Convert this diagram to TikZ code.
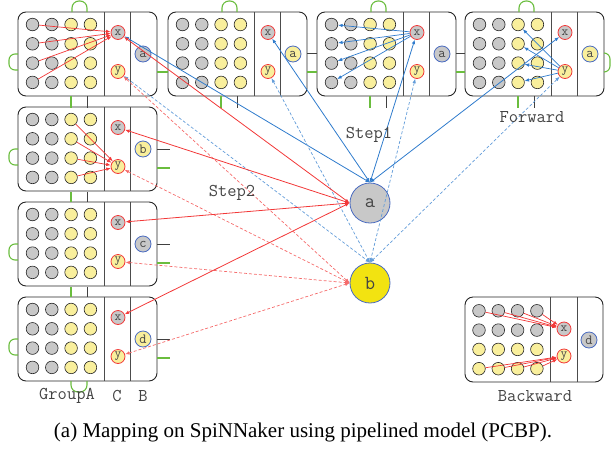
\documentclass[tikz,border=0pt]{standalone}
\usepackage{fontspec}
\setmainfont{Liberation Serif}
\usepackage{tikz}
\usetikzlibrary{arrows.meta}
\usepackage{xcolor}

\definecolor{cellgray}{HTML}{C8C8C8}
\definecolor{cellyel}{HTML}{F9EF9C}
\definecolor{bigyel}{HTML}{F2E311}
\definecolor{linered}{HTML}{F23838}
\definecolor{lineblue}{HTML}{2E7BCC}
\definecolor{ringblue}{HTML}{4A6BC0}
\definecolor{linkgreen}{HTML}{6ABD3E}
\definecolor{labelgray}{HTML}{444444}

% one group: name, top-left corner, unit letter, unit fill
\newcommand{\pcgroup}[4]{
  \begin{scope}[shift={#2}]
    \draw[groupbox] (0,0) rectangle (139,84);
    \draw[divider] (86,0) -- (86,84);
    \draw[divider] (112,0) -- (112,84);
    \foreach \c/\f in {1/cellgray,2/cellgray,3/cellyel,4/cellyel}
      \foreach \r in {1,...,4}
        \node[cell, fill=\f] (#1-\r-\c) at ({-4.8+19.3*\c},{-6.8+19.3*\r}) {};
    \node[io, fill=cellgray] (#1-x) at (100,20.5) {x};
    \node[io, fill=cellyel] (#1-y) at (100,59.5) {y};
    \node[unitnode, fill=#4] (#1-u) at (125,42) {#3};
  \end{scope}
}

\begin{document}
\begin{tikzpicture}[x=1pt, y=-1pt, font=\fontsize{18}{20}\selectfont\ttfamily, text=labelgray]
\tikzset{
  groupbox/.style={draw=black!85, line width=0.9pt, rounded corners=8pt},
  divider/.style={draw=black!70, line width=0.8pt},
  cell/.style={circle, draw=black!85, line width=0.6pt, minimum size=12.6pt, inner sep=0pt},
  io/.style={circle, draw=linered, line width=0.8pt, minimum size=14pt, inner sep=0pt, font=\fontsize{13}{13}\selectfont\ttfamily},
  unitnode/.style={circle, draw=ringblue, line width=0.8pt, minimum size=16pt, inner sep=0pt, font=\fontsize{14}{14}\selectfont\ttfamily},
  bigunit/.style={circle, draw=ringblue, line width=0.8pt, minimum size=40pt, inner sep=0pt, font=\fontsize{20}{20}\selectfont\ttfamily},
  glink/.style={draw=linkgreen, line width=1.1pt, rounded corners=7pt},
  klink/.style={draw=black!75, line width=0.8pt},
  onetip/.style={-{Latex[length=4.5pt,width=3.5pt]}, line width=0.7pt},
  twotips/.style={{Latex[length=4.5pt,width=3.5pt]}-{Latex[length=4.5pt,width=3.5pt]}},
  fwd/.style={twotips, lineblue, line width=0.8pt},
  fwdd/.style={twotips, lineblue!75, line width=0.7pt, dash pattern=on 3pt off 2pt},
  bwd/.style={twotips, linered, line width=0.8pt},
  bwdd/.style={twotips, linered!75, line width=0.7pt, dash pattern=on 3pt off 2pt},
}
\useasboundingbox (0,0) rectangle (611,448);

% forward row and left column
\pcgroup{fa}{(18,12)}{a}{cellgray}
\pcgroup{fb}{(168,12)}{a}{cellyel}
\pcgroup{fc}{(317,12)}{a}{cellgray}
\pcgroup{fd}{(465,12)}{a}{cellyel}
\pcgroup{lb}{(18,107)}{b}{cellyel}
\pcgroup{lc}{(18,202)}{c}{cellgray}
\pcgroup{ld}{(18,297)}{d}{cellyel}

% backward group
\begin{scope}[shift={(465,297)}]
  \draw[groupbox] (0,0) rectangle (138,85);
  \draw[divider] (85,0) -- (85,85);
  \draw[divider] (112,0) -- (112,85);
  \foreach \r/\f in {1/cellgray,2/cellgray,3/cellyel,4/cellyel}
    \foreach \c in {1,...,4}
      \node[cell, fill=\f] (bk-\r-\c) at ({-5.3+19.3*\c},{-5.5+19.3*\r}) {};
  \node[io, fill=cellgray] (bk-x) at (99,32) {x};
  \node[io, fill=cellyel] (bk-y) at (99,59) {y};
  \node[unitnode, fill=cellgray] (bk-u) at (124,43) {d};
\end{scope}

\node[bigunit, fill=cellgray] (ua) at (370,203) {a};
\node[bigunit, fill=bigyel] (ub) at (370,283) {b};

% links between groups
\foreach \x in {18,168,317,465} {
  \draw[glink] (\x+54,12) -- (\x+54,1) -- (\x+69,1) -- (\x+69,12);
  \draw[glink] (\x+53,96) -- (\x+53,108);
  \draw[klink] (\x+69,96) -- (\x+69,108);
}
\foreach \y in {12,107,202,297}
  \draw[glink, rounded corners=6pt] (18,\y+42) -- (9,\y+42) -- (9,\y+58) -- (18,\y+58);
\foreach \y in {107,202} {
  \draw[glink] (71,\y+85) -- (71,\y+95);
  \draw[klink] (87,\y+85) -- (87,\y+95);
}
\foreach \y in {107,202,297} {
  \draw[klink] (157,\y+42) -- (170,\y+42);
  \draw[glink] (157,\y+61) -- (170,\y+61);
}
\draw[glink] (71,381) -- (71,392) -- (87,392) -- (87,381);
\draw[glink] (157,72) -- (168,72);
\draw[klink] (307,53) -- (317,53);
\draw[glink] (307,72) -- (317,72);
\draw[klink] (456,53) -- (465,53);
\draw[glink] (456,72) -- (465,72);
\draw[glink, rounded corners=6pt] (604,53) -- (610,53) -- (610,72) -- (604,72);

% inside the groups
\foreach \r in {1,...,4} {
  \draw[onetip, linered] (fa-\r-1) -- (fa-x);
  \draw[onetip, lineblue] (fc-x) -- (fc-\r-1);
  \draw[onetip, lineblue] (fd-y) -- (fd-\r-3);
  \draw[onetip, linered] (lb-\r-3) -- (lb-y);
  \draw[onetip, linered] (bk-1-\r) -- (bk-x);
  \draw[onetip, linered] (bk-4-\r) -- (bk-y);
}

% step1 and step2
\foreach \g in {fa,fb,fc,fd} {
  \draw[fwd] (\g-x) -- (ua.north);
  \draw[fwdd] (\g-y) -- (ub.north);
}
\foreach \g in {fa,lb,lc,ld} {
  \draw[bwd] (\g-x) -- (ua.west);
  \draw[bwdd] (\g-y) -- (ub.west);
}

\node (step1) at (369,135) {Step1};
\node (step2) at (232,193) {Step2};
\node (fwdlabel) at (532,117) {Forward};
\node (grplabel) at (67,396) {GroupA};
\node (clabel) at (117,396) {C};
\node (blabel) at (143,396) {B};
\node (bwdlabel) at (535,396) {Backward};
\node[font=\fontsize{21}{24}\selectfont\rmfamily, text=black] (caption) at (303,432) {(a) Mapping on SpiNNaker using pipelined model (PCBP).};
\end{tikzpicture}
\end{document}
